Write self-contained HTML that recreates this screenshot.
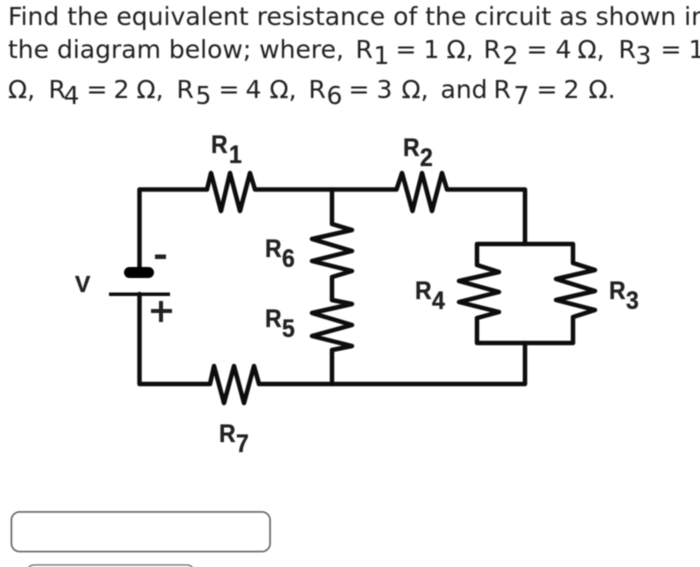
<!DOCTYPE html>
<html><head><meta charset="utf-8"><style>
html,body{margin:0;padding:0;background:#fff;width:700px;height:567px;overflow:hidden}
svg{display:block}
.t{font-family:"DejaVu Sans",sans-serif;font-size:25px;fill:#222}
.l{font-family:"Liberation Sans",sans-serif;font-weight:bold;font-size:23px;fill:#222;stroke:#222;stroke-width:.3}
.w{fill:none;stroke:#111;stroke-width:4.5;stroke-linejoin:round;stroke-linecap:round}
</style></head><body>
<svg width="700" height="567" viewBox="0 0 700 567" xmlns="http://www.w3.org/2000/svg">
<defs><filter id="b" x="-5%" y="-5%" width="110%" height="110%"><feGaussianBlur stdDeviation="0.45"/></filter></defs>
<g filter="url(#b)">
<text class="t" x="8" y="25" textLength="699" lengthAdjust="spacing">Find the equivalent resistance of the circuit as shown in</text>
<text class="t" x="8" y="58">the diagram below; where,</text>
<g transform="translate(-1.5,0)">
<text class="t" x="357" y="58">R</text><text class="t" x="375" y="64">1</text>
<text class="t" x="397" y="58">=</text><text class="t" x="425" y="58">1</text><text class="t" x="448" y="58">Ω,</text>
<text class="t" x="485" y="58">R</text><text class="t" x="504" y="64">2</text>
<text class="t" x="528" y="58">=</text><text class="t" x="557" y="58">4</text><text class="t" x="579" y="58">Ω,</text>
<text class="t" x="620" y="58">R</text><text class="t" x="637" y="64">3</text>
<text class="t" x="662" y="58">=</text><text class="t" x="690" y="58">1</text>
<text class="t" x="9.5" y="98">Ω,</text>
<text class="t" x="50" y="98">R</text><text class="t" x="65" y="104">4</text>
<text class="t" x="88" y="98">=</text><text class="t" x="115" y="98">2</text><text class="t" x="138" y="98">Ω,</text>
<text class="t" x="178" y="98">R</text><text class="t" x="197" y="104">5</text>
<text class="t" x="220" y="98">=</text><text class="t" x="247" y="98">4</text><text class="t" x="271" y="98">Ω,</text>
<text class="t" x="310" y="98">R</text><text class="t" x="328" y="104">6</text>
<text class="t" x="350" y="98">=</text><text class="t" x="378" y="98">3</text><text class="t" x="403" y="98">Ω,</text>
<text class="t" x="442" y="98">and</text>
<text class="t" x="495" y="98">R</text><text class="t" x="515" y="104">7</text>
<text class="t" x="538" y="98">=</text><text class="t" x="565" y="98">2</text><text class="t" x="590" y="98">Ω.</text>
</g>

<path class="w" d="M207 189.5L211 173L221 211L230 173L240 211L250 173L255 189.5H396.5L402 173L412.5 211L422 173L432 211L442 173L447 189.5H525V244"/>
<path class="w" d="M207 189.5H139.5V272M139.5 294V384H210L214 366L224 403L234 366L244 403L254 366L259 384H525V343"/>
<path class="w" d="M332 189.5V224L352 230L312 239L352 251L312 261L352 271L332 277V300L352 304L312 313L352 325L312 336L352 346L332 350V384"/>
<path class="w" d="M477 265V244H573V263L595 270L556 279L595 291L556 300L595 310L573 317V343H477V318L499 312L459 302L499 292L459 281L499 272L477 265"/>
<rect x="124" y="267" width="30" height="11" rx="5.5" fill="#000"/>
<rect x="109" y="292.5" width="61" height="3.5" fill="#111"/>
<rect x="155" y="254.5" width="11" height="4.5" fill="#222"/>
<path d="M151 311H172M161 301V322" stroke="#222" stroke-width="4" fill="none"/>

<text class="l" transform="translate(211,153) scale(1,1.1)">R</text><text class="l" transform="translate(229,163) scale(1,1.1)">1</text>
<text class="l" transform="translate(403,156) scale(1,1.1)">R</text><text class="l" transform="translate(420,166) scale(1,1.1)">2</text>
<text class="l" transform="translate(265,257) scale(1,1.1)">R</text><text class="l" transform="translate(282,267) scale(1,1.1)">6</text>
<text class="l" transform="translate(265,327) scale(1,1.1)">R</text><text class="l" transform="translate(282,337) scale(1,1.1)">5</text>
<text class="l" transform="translate(219,442) scale(1,1.1)">R</text><text class="l" transform="translate(236,452) scale(1,1.1)">7</text>
<text class="l" transform="translate(415,299) scale(1,1.1)">R</text><text class="l" transform="translate(432,309) scale(1,1.1)">4</text>
<text class="l" transform="translate(609,299) scale(1,1.1)">R</text><text class="l" transform="translate(626,309) scale(1,1.1)">3</text>
<text class="l" x="75" y="292">V</text>

<rect x="11.5" y="512" width="258.5" height="39.5" rx="8" fill="#fff" stroke="#666" stroke-width="1.8"/>
<rect x="28" y="565" width="165" height="10" rx="6" fill="#fff" stroke="#777" stroke-width="1.5"/>
</g>
</svg>
</body></html>
